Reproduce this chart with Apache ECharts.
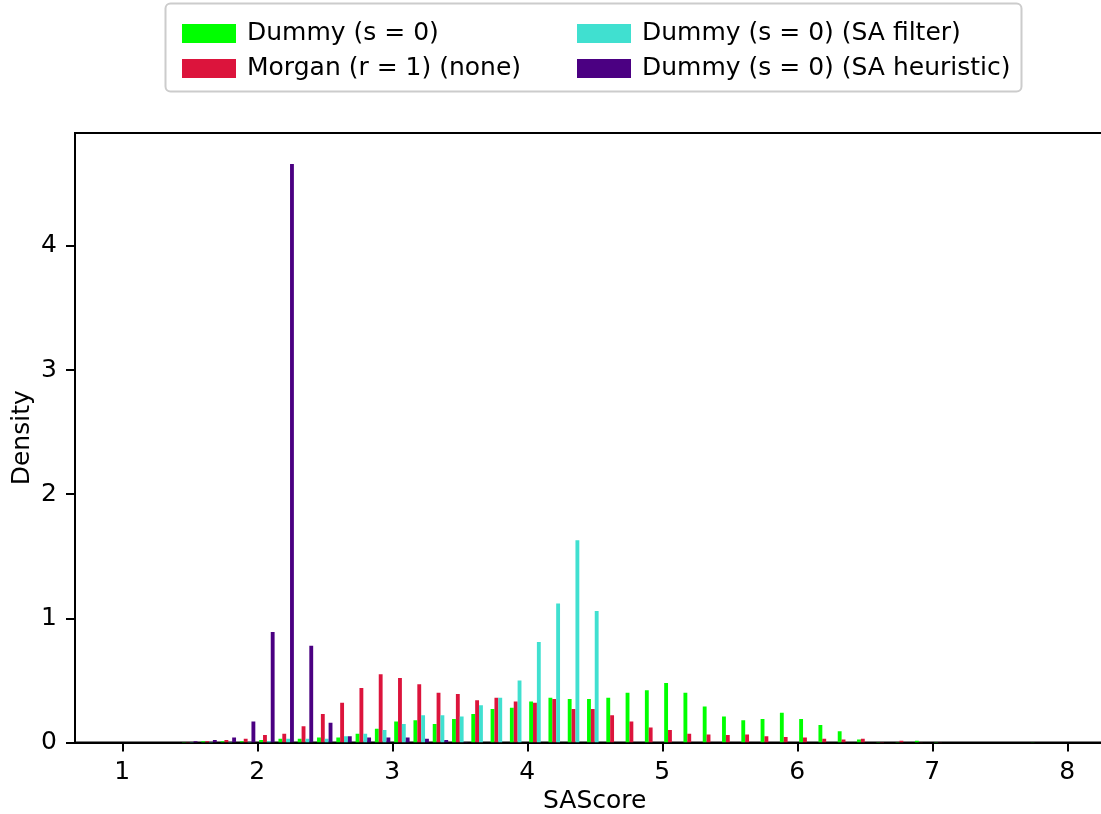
<!DOCTYPE html>
<html>
<head>
<meta charset="utf-8">
<title>SAScore density</title>
<script src="https://cdn.jsdelivr.net/npm/echarts@6/dist/echarts.min.js"></script>
<style>
  html, body { margin: 0; padding: 0; background: #fff; }
  #chart { width: 1101px; height: 814px; }
</style>
</head>
<body>
<div id="chart"></div>
<script>
// Histogram: 49 equal bins spanning SAScore 1 .. 8, density per bin.
const binRange = [1, 8];

const seriesNames = [
  'Dummy (s = 0)',
  'Morgan (r = 1) (none)',
  'Dummy (s = 0) (SA filter)',
  'Dummy (s = 0) (SA heuristic)'
];

const dummy = [
  0, 0, 0, 0.005, 0.01, 0.01, 0.01, 0.02, 0.03, 0.03,
  0.04, 0.04, 0.07, 0.11, 0.17, 0.18, 0.15, 0.19, 0.23, 0.27,
  0.28, 0.33, 0.36, 0.35, 0.35, 0.36, 0.40, 0.42, 0.48, 0.40,
  0.29, 0.21, 0.18, 0.19, 0.24, 0.19, 0.14, 0.09, 0.025, 0.005,
  0.005, 0.015, 0.005, 0, 0, 0, 0, 0.003, 0
];

const morgan = [
  0, 0, 0, 0.005, 0.01, 0.02, 0.03, 0.06, 0.07, 0.13,
  0.23, 0.32, 0.44, 0.55, 0.52, 0.47, 0.40, 0.39, 0.34, 0.36,
  0.33, 0.32, 0.35, 0.27, 0.27, 0.22, 0.17, 0.12, 0.10, 0.07,
  0.065, 0.06, 0.065, 0.05, 0.045, 0.04, 0.03, 0.025, 0.03, 0.005,
  0.015, 0.003, 0.003, 0, 0, 0, 0, 0, 0
];

const saFilter = [
  0, 0, 0, 0.005, 0.005, 0.005, 0.005, 0.01, 0.03, 0.03,
  0.03, 0.05, 0.07, 0.10, 0.15, 0.22, 0.22, 0.21, 0.30, 0.36,
  0.50, 0.81, 1.12, 1.63, 1.06, 0, 0, 0, 0, 0,
  0, 0, 0, 0, 0, 0, 0, 0, 0, 0,
  0, 0, 0, 0, 0, 0, 0, 0, 0
];

const saHeuristic = [
  0, 0, 0, 0.01, 0.02, 0.04, 0.17, 0.89, 4.66, 0.78,
  0.16, 0.05, 0.04, 0.04, 0.04, 0.03, 0.02, 0.005, 0, 0,
  0, 0, 0, 0, 0, 0, 0, 0, 0, 0,
  0, 0, 0, 0, 0, 0, 0, 0, 0, 0,
  0, 0, 0, 0, 0, 0, 0, 0, 0
];

const xTicks = [1, 2, 3, 4, 5, 6, 7, 8];
const yTicks = [0, 1, 2, 3, 4];

const colors = ['#00ff00', '#dc143c', '#40e0d0', '#4b0082'];
const allValues = [dummy, morgan, saFilter, saHeuristic];

// Side-by-side bars: 80% of each bin shared by the four data sets.
const nBins = dummy.length;
const binW = (binRange[1] - binRange[0]) / nBins;
const groupFrac = 0.8;
const barFrac = groupFrac / allValues.length;

function barsFor(values, s) {
  return values.map((v, k) => {
    const left = binRange[0] + k * binW + ((1 - groupFrac) / 2 + s * barFrac) * binW;
    return [left, left + barFrac * binW, v];
  });
}

function renderBar(params, api) {
  const h = api.value(2);
  if (!(h > 0)) return null;
  const p0 = api.coord([api.value(0), h]);
  const p1 = api.coord([api.value(1), 0]);
  return {
    type: 'rect',
    shape: { x: p0[0], y: p0[1], width: p1[0] - p0[0], height: p1[1] - p0[1] },
    style: { fill: api.visual('color') }
  };
}

const FONT = 'DejaVu Sans';
const FS = 25;

const series = allValues.map((vals, s) => ({
  type: 'custom',
  name: seriesNames[s],
  renderItem: renderBar,
  itemStyle: { color: colors[s] },
  encode: { x: [0, 1], y: 2 },
  clip: true,
  data: barsFor(vals, s)
}));

const legendCommon = {
  orient: 'vertical',
  icon: 'rect',
  itemWidth: 54,
  itemHeight: 19,
  itemGap: 10,
  selectedMode: false,
  textStyle: { fontFamily: FONT, fontSize: FS, color: '#000', padding: [0, 0, 0, 6] }
};

const chart = echarts.init(document.getElementById('chart'), null, { renderer: 'canvas' });
chart.setOption({
  backgroundColor: '#fff',
  animation: false,
  graphic: [{
    type: 'rect',
    shape: { x: 165.5, y: 3.5, width: 856, height: 88, r: 5 },
    style: { fill: '#fff', stroke: '#cccccc', lineWidth: 2 },
    z: 0
  }],
  legend: [
    Object.assign({ left: 177, top: 16, data: [seriesNames[0], seriesNames[1]] }, legendCommon),
    Object.assign({ left: 572, top: 16, data: [seriesNames[2], seriesNames[3]] }, legendCommon)
  ],
  grid: {
    left: 75, top: 133, width: 1039.5, height: 609.5,
    outerBoundsMode: 'none',
    show: true, borderColor: '#000', borderWidth: 2, backgroundColor: 'transparent'
  },
  xAxis: {
    type: 'value', min: 0.65, max: 8.35,
    name: 'SAScore', nameLocation: 'middle', nameGap: 44,
    nameTextStyle: { fontFamily: FONT, fontSize: FS, color: '#000' },
    axisLine: { show: true, lineStyle: { color: '#000', width: 2 } },
    axisTick: { show: true, length: 9, lineStyle: { color: '#000', width: 2 }, customValues: xTicks },
    axisLabel: { fontFamily: FONT, fontSize: FS, color: '#000', margin: 17, customValues: xTicks },
    splitLine: { show: false }
  },
  yAxis: {
    type: 'value', min: 0, max: 4.91,
    name: 'Density', nameLocation: 'middle', nameGap: 40, nameRotate: 90,
    nameMoveOverlap: false,
    nameTextStyle: { fontFamily: FONT, fontSize: FS, color: '#000' },
    axisLine: { show: true, lineStyle: { color: '#000', width: 2 } },
    axisTick: { show: true, length: 9, lineStyle: { color: '#000', width: 2 }, customValues: yTicks },
    axisLabel: { fontFamily: FONT, fontSize: FS, color: '#000', margin: 18, customValues: yTicks },
    splitLine: { show: false }
  },
  series: series
});
</script>
</body>
</html>
